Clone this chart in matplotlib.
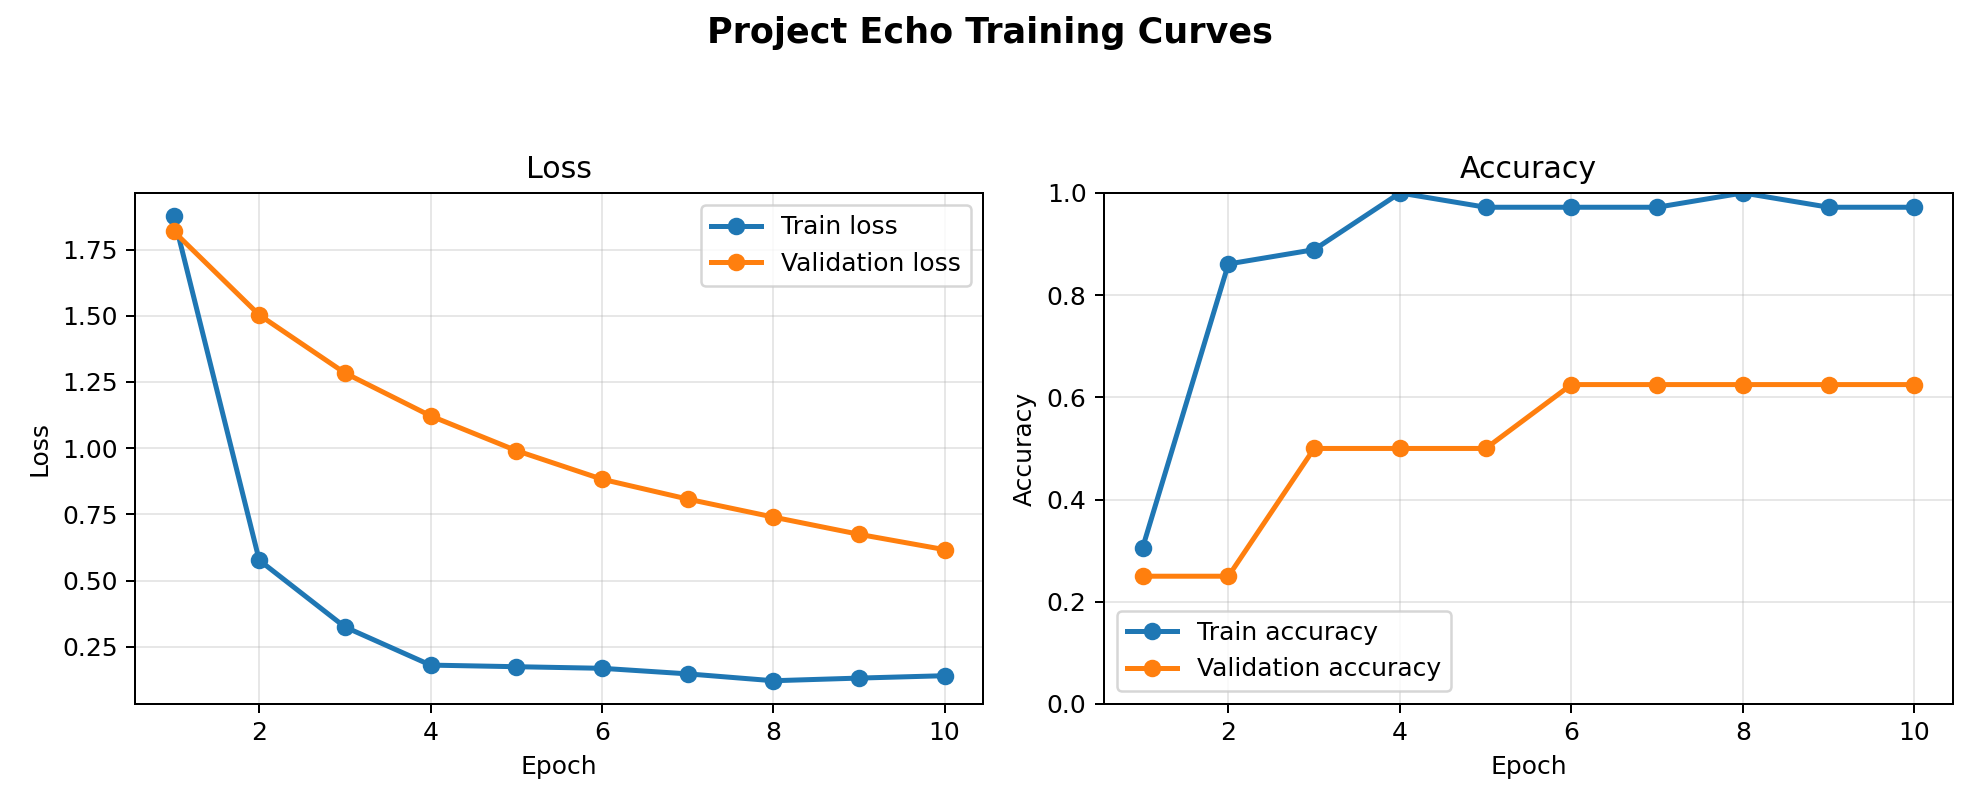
import matplotlib
matplotlib.use("Agg")
import matplotlib.pyplot as plt

# 训练曲线数据
epochs = [1, 2, 3, 4, 5, 6, 7, 8, 9, 10]
train_loss = [1.876, 0.577, 0.325, 0.181, 0.175, 0.169, 0.148, 0.122, 0.132, 0.141]
val_loss = [1.819, 1.503, 1.284, 1.122, 0.991, 0.883, 0.808, 0.740, 0.675, 0.617]
train_acc = [0.306, 0.861, 0.889, 1.0, 0.972, 0.972, 0.972, 1.0, 0.972, 0.972]
val_acc = [0.25, 0.25, 0.5, 0.5, 0.5, 0.625, 0.625, 0.625, 0.625, 0.625]

fig, (ax1, ax2) = plt.subplots(1, 2, figsize=(11, 4.5), dpi=180)

# Loss
ax1.plot(epochs, train_loss, marker="o", linewidth=2, label="Train loss")
ax1.plot(epochs, val_loss, marker="o", linewidth=2, label="Validation loss")
ax1.set_title("Loss", fontsize=12)
ax1.set_xlabel("Epoch")
ax1.set_ylabel("Loss")
ax1.grid(True, alpha=0.3)
ax1.legend(loc="upper right")

# Accuracy
ax2.plot(epochs, train_acc, marker="o", linewidth=2, label="Train accuracy")
ax2.plot(epochs, val_acc, marker="o", linewidth=2, label="Validation accuracy")
ax2.set_title("Accuracy", fontsize=12)
ax2.set_xlabel("Epoch")
ax2.set_ylabel("Accuracy")
ax2.set_ylim(0, 1)
ax2.grid(True, alpha=0.3)
ax2.legend(loc="lower left")

fig.suptitle("Project Echo Training Curves", fontsize=14, fontweight="bold")

ax1.set_position([0.0682, 0.1309, 0.4283, 0.6309])
ax2.set_position([0.5576, 0.1309, 0.4288, 0.6309])

fig.savefig("out.png", dpi=180)
